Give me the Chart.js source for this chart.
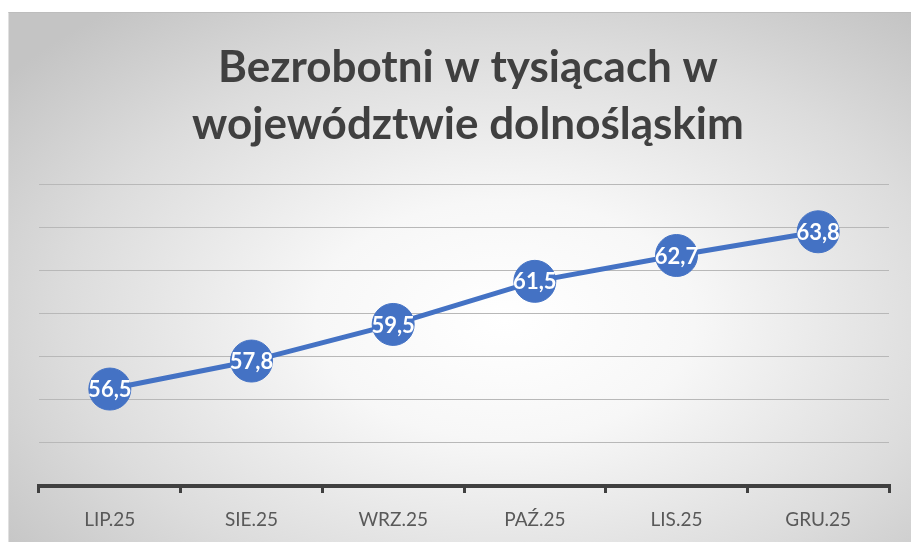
<!DOCTYPE html>
<html>
<head>
<meta charset="utf-8">
<script src="https://cdn.jsdelivr.net/npm/chart.js@4"></script>
<style>
    body { margin: 0; background: #fff; }
    #wrap {
        position: absolute; left: 8px; top: 12px; width: 903px; height: 530px;
        background: radial-gradient(ellipse 70% 75% at 55% 58%, #ffffff 0%, #f7f7f7 30%, #dcdcdc 70%, #c4c4c4 100%);
        border-top: 1px solid #bdbdbd; border-left: 1px solid #e0e0e0;
        box-sizing: border-box;
    }
</style>
</head>
<body>
<div id="wrap"><canvas id="chart"></canvas></div>
<script>
const months = ['LIP.25', 'SIE.25', 'WRZ.25', 'PAŹ.25', 'LIS.25', 'GRU.25'];
const unemployed = [56.5, 57.8, 59.5, 61.5, 62.7, 63.8];
const titleLines = ['Bezrobotni w tysiącach w', 'województwie dolnośląskim'];

// draws the value inside each marker, Polish decimal comma
const pointLabels = {
    id: 'pointLabels',
    afterDatasetsDraw(chart) {
        const ctx = chart.ctx;
        const meta = chart.getDatasetMeta(0);
        ctx.save();
        ctx.fillStyle = '#ffffff';
        ctx.font = 'bold 22px Lato';
        ctx.textAlign = 'center';
        ctx.textBaseline = 'middle';
        meta.data.forEach((pt, i) => {
            ctx.fillText(unemployed[i].toFixed(1).replace('.', ','), pt.x, pt.y + 1);
        });
        ctx.restore();
    }
};

new Chart(document.getElementById('chart'), {
    type: 'line',
    data: {
        labels: months,
        datasets: [{
            data: unemployed,
            borderColor: '#4472C4',
            borderWidth: 5,
            backgroundColor: '#4472C4',
            pointRadius: 21,
            pointHoverRadius: 21,
            pointBorderWidth: 1,
            pointBackgroundColor: '#4472C4',
            pointBorderColor: '#4472C4',
            tension: 0
        }]
    },
    options: {
        responsive: true,
        maintainAspectRatio: false,
        animation: false,
        layout: { padding: { left: 30, right: 14, top: 0, bottom: -4 } },
        scales: {
            y: {
                min: 52,
                max: 66,
                ticks: { display: false, stepSize: 2 },
                border: { display: false },
                grid: { color: '#b8b8b8', lineWidth: 1, drawTicks: false }
            },
            x: {
                offset: true,
                border: { display: true, color: '#404040', width: 4 },
                grid: { offset: true, drawOnChartArea: false, drawTicks: true, tickLength: 7, color: '#404040', lineWidth: 3 },
                ticks: { color: '#595959', font: { family: 'Lato', size: 19, lineHeight: 1 }, padding: 17 }
            }
        },
        plugins: {
            legend: { display: false },
            tooltip: { enabled: false },
            title: {
                display: true,
                text: titleLines,
                color: '#404040',
                font: { family: 'Lato', size: 44, weight: 'bold', lineHeight: 1.3 },
                padding: { top: 26, bottom: 31 }
            }
        }
    },
    plugins: [pointLabels]
});
</script>
</body>
</html>
